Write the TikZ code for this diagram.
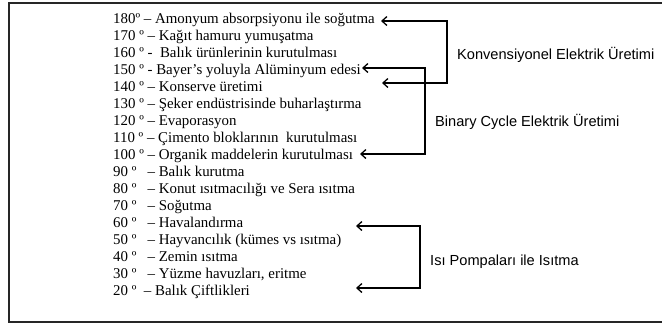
\documentclass[tikz,border=0pt]{standalone}
\usepackage{fontspec}
\setmainfont{Liberation Serif}
\setsansfont{Liberation Sans}
\usetikzlibrary{arrows.meta}
\begin{document}
\begin{tikzpicture}[x=1pt,y=-1pt,
  item/.style={anchor=base west,inner sep=0pt,font=\fontsize{14.9}{17}\selectfont},
  grp/.style={anchor=west,inner sep=0pt,font=\sffamily\fontsize{14.6}{17}\selectfont},
  link/.style={line width=1.3pt,{Straight Barb[length=5pt,width=9pt]}-{Straight Barb[length=5pt,width=9pt]}},
  frame/.style={line width=1.3pt,draw=black!85}]
\useasboundingbox (0,0) rectangle (662,327);
\draw[frame] (9,3) rectangle (675,322);
\node[item] (l0) at (113,23) {180º – Amonyum absorpsiyonu ile soğutma};
\node[item] (l1) at (113,40) {170 º – Kağıt hamuru yumuşatma};
\node[item] (l2) at (113,57) {160 º -\ \ Balık ürünlerinin kurutulması};
\node[item] (l3) at (113,74) {150 º - Bayer’s yoluyla Alüminyum edesi};
\node[item] (l4) at (113,91) {140 º – Konserve üretimi};
\node[item] (l5) at (113,108) {130 º – Şeker endüstrisinde buharlaştırma};
\node[item] (l6) at (113,125) {120 º – Evaporasyon};
\node[item] (l7) at (113,142) {110 º – Çimento bloklarının\ \ kurutulması};
\node[item] (l8) at (113,159) {100 º – Organik maddelerin kurutulması};
\node[item] (l9) at (113,176) {90 º\ \ \ – Balık kurutma};
\node[item] (l10) at (113,193) {80 º\ \ \ – Konut ısıtmacılığı ve Sera ısıtma};
\node[item] (l11) at (113,210) {70 º\ \ \ – Soğutma};
\node[item] (l12) at (113,227) {60 º\ \ \ – Havalandırma};
\node[item] (l13) at (113,244) {50 º\ \ \ – Hayvancılık (kümes vs ısıtma)};
\node[item] (l14) at (113,261) {40 º\ \ \ – Zemin ısıtma};
\node[item] (l15) at (113,278) {30 º\ \ \ – Yüzme havuzları, eritme};
\node[item] (l16) at (113,295) {20 º\ \ – Balık Çiftlikleri};
% arrow end coordinates
\coordinate (k1) at (381,21);
\coordinate (k2) at (382,83);
\coordinate (b1) at (362,68);
\coordinate (b2) at (360,154);
\coordinate (h1) at (356,226);
\coordinate (h2) at (356,288);
\draw[link] (k1) -- (447,21) -- (447,83) -- (k2);
\draw[link] (b1) -- (425,68) -- (425,154) -- (b2);
\draw[link] (h1) -- (420,226) -- (420,288) -- (h2);
\node[grp] (kl) at (457,55) {Konvensiyonel Elektrik Üretimi};
\node[grp] (bl) at (435,122) {Binary Cycle Elektrik Üretimi};
\node[grp] (hl) at (430,262) {Isı Pompaları ile Isıtma};
\end{tikzpicture}
\end{document}
